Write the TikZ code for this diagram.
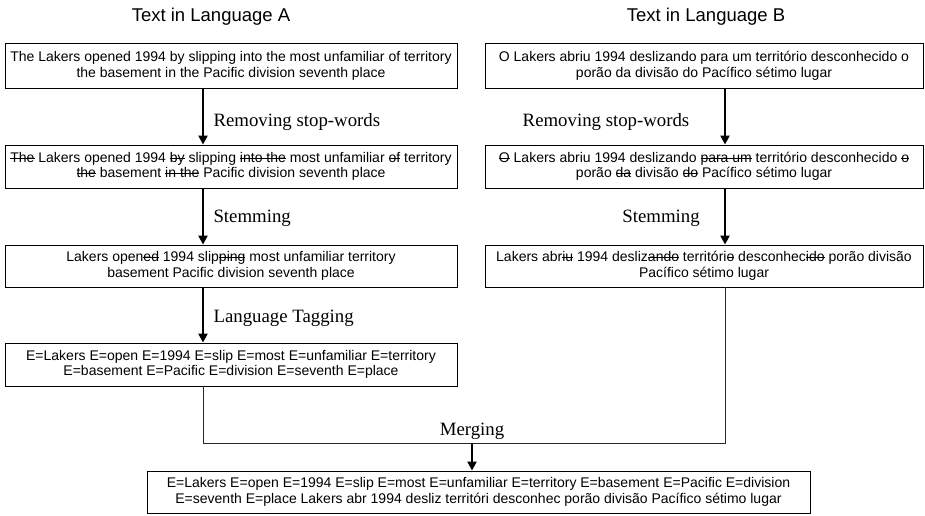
\documentclass[tikz,border=0pt]{standalone}
\usepackage{fontspec}
\setmainfont{Liberation Serif}
\setsansfont{Liberation Sans}
\usetikzlibrary{arrows.meta}
% struck-out word part: thin rule through the middle of the x-height
\newcommand\strike[1]{\begingroup\setbox0=\hbox{#1}\rlap{\rule[0.27em]{\wd0}{0.7pt}}\box0\endgroup}
\begin{document}
\begin{tikzpicture}[x=1pt,y=-1pt,
  box/.style={draw, line width=0.9pt, inner sep=0pt, align=center,
    font=\fontsize{14}{15.5}\sffamily, minimum height=43pt},
  title/.style={font=\fontsize{18.5}{22}\sffamily},
  steplabel/.style={font=\fontsize{18.8}{22}\selectfont, anchor=west},
  arr/.style={line width=2.2pt, -{Triangle[length=9pt,width=9pt]}},
  link/.style={line width=0.9pt, draw=black!85}]
\useasboundingbox (0,0) rectangle (925,515);

% column guides for the arrows
\coordinate (colA) at (203,0);
\coordinate (colB) at (725,0);
\coordinate (join) at (472,443);

% headings
\node[title] (tA) at (211,17) {Text in Language A};
\node[title] (tB) at (706,17) {Text in Language B};

% language A pipeline
\node[box, minimum width=452pt, minimum height=45pt] (a1) at (231,66)
  {The Lakers opened 1994 by slipping into the most unfamiliar of territory\\
   the basement in the Pacific division seventh place};
\node[box, minimum width=452pt] (a2) at (231,166.5)
  {\strike{The} Lakers opened 1994 \strike{by} slipping \strike{into the} most unfamiliar \strike{of} territory\\
   \strike{the} basement \strike{in the} Pacific division seventh place};
\node[box, minimum width=452pt, minimum height=42pt] (a3) at (231,266)
  {Lakers open\strike{ed} 1994 slip\strike{ping} most unfamiliar territory\\
   basement Pacific division seventh place};
\node[box, minimum width=452pt] (a4) at (231,364.5)
  {E=Lakers E=open E=1994 E=slip E=most E=unfamiliar E=territory\\
   E=basement E=Pacific E=division E=seventh E=place};

% language B pipeline
\node[box, minimum width=438pt, minimum height=45pt] (b1) at (704,66)
  {O Lakers abriu 1994 deslizando para um território desconhecido o\\
   porão da divisão do Pacífico sétimo lugar};
\node[box, minimum width=438pt] (b2) at (704,166.5)
  {\strike{O} Lakers abriu 1994 deslizando \strike{para um} território desconhecido \strike{o}\\
   porão \strike{da} divisão \strike{do} Pacífico sétimo lugar};
\node[box, minimum width=438pt, minimum height=42pt] (b3) at (704,266)
  {Lakers abr\strike{iu} 1994 desliz\strike{ando} territóri\strike{o} desconhec\strike{ido} porão divisão\\
   Pacífico sétimo lugar};

% merged output
\node[box, minimum width=663pt, minimum height=42pt] (m) at (478.5,492)
  {E=Lakers E=open E=1994 E=slip E=most E=unfamiliar E=territory E=basement E=Pacific E=division\\
   E=seventh E=place Lakers abr 1994 desliz territóri desconhec porão divisão Pacífico sétimo lugar};

% step labels
\node[steplabel] (lA1) at (210,122) {Removing stop-words};
\node[steplabel] (lA2) at (210,218) {Stemming};
\node[steplabel] (lA3) at (210,318) {Language Tagging};
\node[steplabel, anchor=center] (lB1) at (606,122) {Removing stop-words};
\node[steplabel, anchor=center] (lB2) at (661,218) {Stemming};
\node[steplabel, anchor=center] (lM) at (472,431) {Merging};

% arrows
\draw[arr] (a1.south -| colA) -- (a2.north -| colA);
\draw[arr] (a2.south -| colA) -- (a3.north -| colA);
\draw[arr] (a3.south -| colA) -- (a4.north -| colA);
\draw[arr] (b1.south -| colB) -- (b2.north -| colB);
\draw[arr] (b2.south -| colB) -- (b3.north -| colB);

% merge connector
\draw[link] (a4.south -| colA) -- (colA |- join) -- (colB |- join) -- (b3.south -| colB);
\draw[arr] (join) -- (m.north -| join);
\end{tikzpicture}
\end{document}
